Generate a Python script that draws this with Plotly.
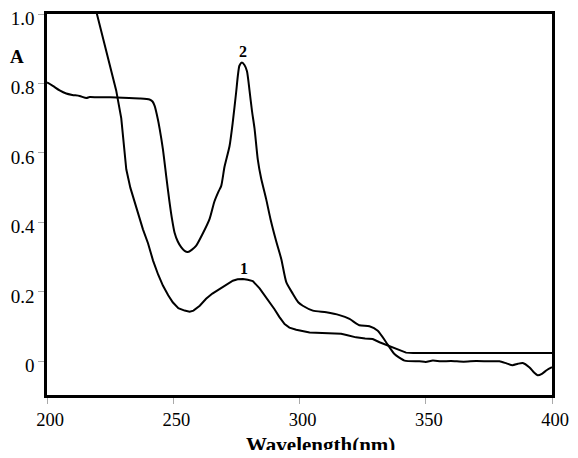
import plotly.graph_objects as go

# Curve 1 (steep short-wavelength curve, peak ~276 nm)
wl1 = [217, 219.8, 222, 225, 227.4, 229.4, 231.4, 233, 234.7, 238, 240, 242, 244, 245.9, 248,
       249.8, 252, 254.5, 256.5, 258, 260.5, 263, 265.5, 268.3, 271, 273.6, 275.5, 277.6, 279.5,
       281.5, 284.2, 286.8, 290.1, 292, 294.1, 296, 298.7, 304, 310.6, 316.5, 319, 322.4, 326,
       329, 331.7, 335, 338.3, 342.2, 345, 360, 372, 380, 400]
a1 = [1.08, 1.0, 0.93, 0.85, 0.78, 0.70, 0.553, 0.50, 0.458, 0.38, 0.34, 0.29, 0.25, 0.218, 0.19,
      0.17, 0.153, 0.146, 0.143, 0.146, 0.16, 0.18, 0.195, 0.208, 0.222, 0.232, 0.236, 0.237, 0.235,
      0.231, 0.21, 0.184, 0.15, 0.128, 0.107, 0.097, 0.091, 0.083, 0.081, 0.079, 0.075, 0.069, 0.066,
      0.064, 0.055, 0.045, 0.035, 0.025, 0.024, 0.024, 0.024, 0.024, 0.024]

# Curve 2 (plateau then sharp peak ~277 nm)
wl2 = [200, 202.3, 205, 207.6, 210, 212.9, 215.6, 216.9, 220, 225, 230, 236.7, 240.6, 241.8, 242.6,
       243.9, 244.6, 245.9, 247.2, 248.5, 249.5, 250.5, 251.8, 253.2, 254.5, 255.8, 257.3, 259.1,
       261.5, 264.4, 266.3, 268, 269, 270.3, 272.3, 273.6, 274.9, 276.2, 277.2, 278.2, 279.2, 280.2,
       281.2, 282.2, 283.5, 284.8, 286.8, 288.5, 290.8, 292.8, 294.8, 297.4, 299.5, 301.3, 305.3,
       310.6, 315.8, 319.8, 323.7, 327.7, 331, 334.3, 337.6, 341.6, 347.5, 350, 352.8, 356, 360, 365,
       370, 375, 379.2, 382, 384.4, 386.5, 388.4, 391, 393, 394.3, 396, 398, 400]
a2 = [0.803, 0.793, 0.78, 0.771, 0.767, 0.764, 0.758, 0.761, 0.76, 0.76, 0.759, 0.757, 0.754, 0.748,
      0.736, 0.697, 0.67, 0.611, 0.534, 0.46, 0.41, 0.371, 0.345, 0.328, 0.318, 0.315, 0.321, 0.333,
      0.365, 0.41, 0.46, 0.49, 0.505, 0.56, 0.62, 0.69, 0.774, 0.851, 0.86, 0.853, 0.835, 0.78, 0.72,
      0.67, 0.58, 0.527, 0.467, 0.41, 0.345, 0.294, 0.227, 0.194, 0.17, 0.16, 0.146, 0.141, 0.133,
      0.122, 0.104, 0.101, 0.088, 0.055, 0.021, 0.002, 0.0, -0.002, 0.002, 0.0, 0.001, -0.001, 0.001,
      0.0, 0.0, -0.006, -0.011, -0.007, -0.005, -0.017, -0.033, -0.04, -0.036, -0.025, -0.017]

x_ticks = [200, 250, 300, 350, 400]
y_ticks = [0, 0.2, 0.4, 0.6, 0.8, 1.0]
y_tick_text = ["0", "0.2", "0.4", "0.6", "0.8", "1.0"]

serif = "Times New Roman, Liberation Serif, DejaVu Serif, serif"

fig = go.Figure()
fig.add_trace(go.Scatter(x=wl1, y=a1, mode="lines", line=dict(color="black", width=2),
                         showlegend=False))
fig.add_trace(go.Scatter(x=wl2, y=a2, mode="lines", line=dict(color="black", width=2),
                         showlegend=False, line_shape="spline", line_smoothing=0.6))

axis_common = dict(showgrid=False, zeroline=False, showline=True, linecolor="black", linewidth=2.5,
                   mirror=True, ticks="outside", ticklen=6, tickwidth=1, tickcolor="#aaaaaa",
                   ticklabeloverflow="allow", automargin=False)

fig.update_xaxes(range=[200, 400], tickvals=x_ticks, ticktext=[str(v) for v in x_ticks],
                 ticklabelshift=3, tickfont=dict(family=serif, size=18.5, color="black"),
                 **axis_common)
fig.update_yaxes(range=[-0.097, 1.0], tickvals=y_ticks, ticktext=y_tick_text,
                 ticklabelshift=4, tickfont=dict(family=serif, size=19, color="black"),
                 **axis_common)

fig.add_annotation(text="<b>Wavelength(nm)</b>", xref="paper", yref="paper", x=0.542, y=-0.132,
                   xanchor="center", yanchor="middle", showarrow=False,
                   font=dict(family=serif, size=21, color="black"))
fig.add_annotation(text="<b>A</b>", xref="paper", yref="paper", x=-0.06, y=0.888,
                   xanchor="center", yanchor="middle", showarrow=False,
                   font=dict(family=serif, size=19, color="black"))
fig.add_annotation(text="<b>2</b>", x=277.5, y=0.893, xanchor="center", yanchor="middle",
                   showarrow=False, font=dict(family=serif, size=16, color="black"))
fig.add_annotation(text="<b>1</b>", x=278.2, y=0.268, xanchor="center", yanchor="middle",
                   showarrow=False, font=dict(family=serif, size=16, color="black"))

# page body has an 8px margin on every side; size the figure so the page needs no scrollbars
fig.update_layout(width=562, height=442, margin=dict(l=39.4, r=18, t=6.3, b=54.5),
                  plot_bgcolor="white", paper_bgcolor="white",
                  font=dict(family=serif, color="black"))

fig.write_html("out.html")
